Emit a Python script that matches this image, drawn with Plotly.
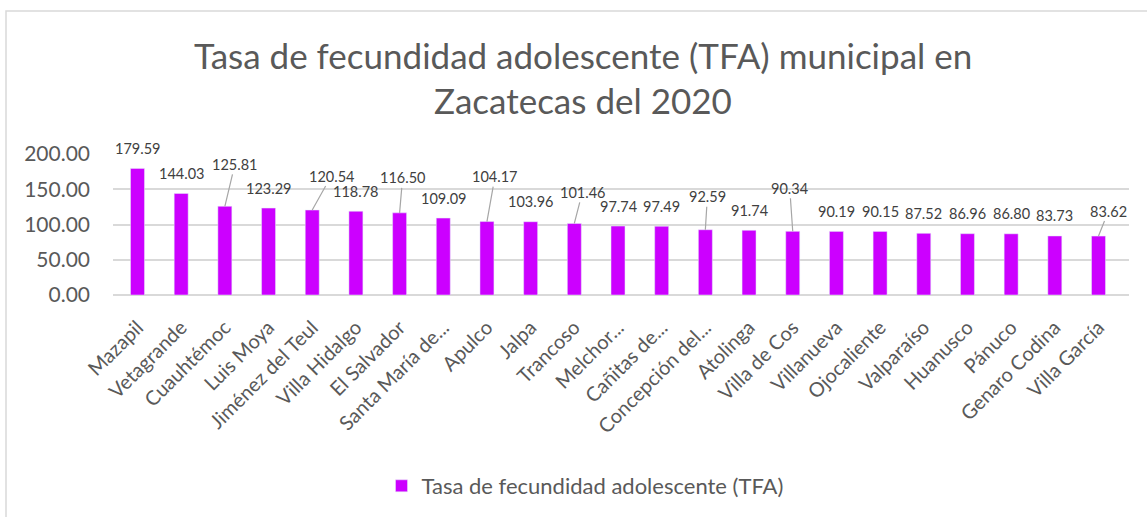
import plotly.graph_objects as go

# Municipal adolescent fertility rate, Zacatecas 2020
municipios = [
    "Mazapil", "Vetagrande", "Cuauhtémoc", "Luis Moya", "Jiménez del Teul",
    "Villa Hidalgo", "El Salvador", "Santa María de...", "Apulco", "Jalpa",
    "Trancoso", "Melchor...", "Cañitas de...", "Concepción del...", "Atolinga",
    "Villa de Cos", "Villanueva", "Ojocaliente", "Valparaíso", "Huanusco",
    "Pánuco", "Genaro Codina", "Villa García",
]
tfa = [
    179.59, 144.03, 125.81, 123.29, 120.54,
    118.78, 116.50, 109.09, 104.17, 103.96,
    101.46, 97.74, 97.49, 92.59, 91.74,
    90.34, 90.19, 90.15, 87.52, 86.96,
    86.80, 83.73, 83.62,
]
y_ticks = [0, 50, 100, 150, 200]
serie = "Tasa de fecundidad adolescente (TFA)"
titulo = ["Tasa de fecundidad adolescente (TFA) municipal en", "Zacatecas del 2020"]

# Labels that sit away from their bar, joined by a leader line (pixel offsets)
leader_offsets = {2: (10, -42), 4: (19, -34), 6: (3, -35), 8: (8, -45),
                  10: (8, -31), 13: (2, -33), 15: (-3, -43), 22: (10, -25)}

W, H = 1147, 517
ML, MR, MT, MB = 113, 18, 154, 221
PW, PH = W - ML - MR, H - MT - MB

FONT = "Lato"
GREY = "#595959"
BAR = "#CC00FF"


def px_x(x):
    return (x - ML) / PW


def px_y(y):
    return (H - MB - y) / PH


fig = go.Figure()
fig.add_trace(go.Bar(
    x=municipios, y=tfa, name=serie, marker_color=BAR,
    showlegend=True,
))

annotations = []
for i, (m, v) in enumerate(zip(municipios, tfa)):
    label = f"{v:.2f}"
    if i in leader_offsets:
        ax, ay = leader_offsets[i]
        annotations.append(dict(
            x=m, y=v, text=label, showarrow=True, arrowhead=0,
            arrowwidth=1.2, arrowcolor="#a6a6a6", ax=ax, ay=ay,
            font=dict(family=FONT, size=14.5, color="#404040"),
        ))
    else:
        annotations.append(dict(
            x=m, y=v, text=label, showarrow=False, yshift=20,
            yanchor="middle",
            font=dict(family=FONT, size=14.5, color="#404040"),
        ))

for text, yc in zip(titulo, [54, 100]):
    annotations.append(dict(
        xref="paper", yref="paper", x=px_x(583), y=px_y(yc),
        xanchor="center", yanchor="middle", text=text, showarrow=False,
        font=dict(family=FONT, size=35, color=GREY),
    ))

fig.update_layout(
    width=W, height=H,
    margin=dict(l=ML, r=MR, t=MT, b=MB),
    paper_bgcolor="white", plot_bgcolor="white",
    bargap=0.68,
    annotations=annotations,
    legend=dict(
        orientation="h", x=px_x(585), y=px_y(486), xanchor="center",
        yanchor="middle", itemwidth=30,
        font=dict(family=FONT, size=22, color=GREY),
    ),
    shapes=[dict(
        type="rect", xref="paper", yref="paper",
        x0=px_x(6), x1=px_x(W + 20), y0=px_y(H + 20), y1=px_y(10),
        line=dict(color="#d9d9d9", width=1.5), layer="below",
    )],
    xaxis=dict(
        tickangle=-45, showgrid=False, showline=False, ticks="",
        tickfont=dict(family=FONT, size=20, color=GREY),
        ticklabelstandoff=16,
    ),
    yaxis=dict(
        range=[0, 200], tickvals=y_ticks, tickformat=".2f",
        showgrid=True, gridcolor="#d9d9d9", gridwidth=1.5,
        zeroline=True, zerolinecolor="#d9d9d9", zerolinewidth=1.5,
        showline=False, ticks="",
        tickfont=dict(family=FONT, size=21, color=GREY),
        ticklabelstandoff=22,
    ),
)

fig.write_html("out.html")
